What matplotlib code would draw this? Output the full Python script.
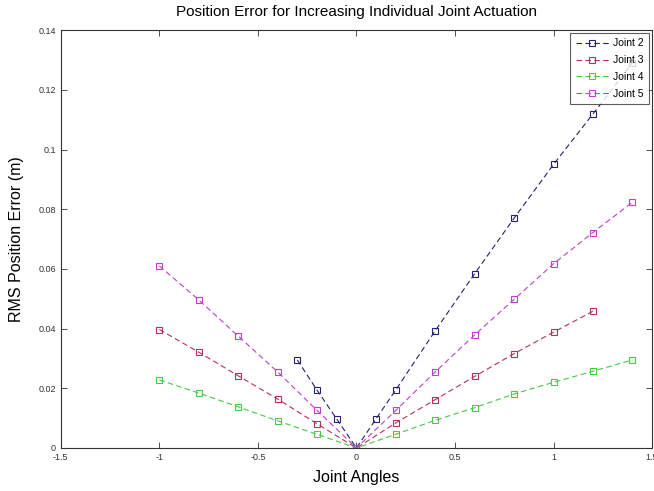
import matplotlib
matplotlib.use('Agg')
import matplotlib.pyplot as plt

plt.rcParams['font.family'] = ['Liberation Sans', 'DejaVu Sans']

# joint angles and RMS position error (m)
j2_x = [-0.3, -0.2, -0.1, 0.0, 0.1, 0.2, 0.4, 0.6, 0.8, 1.0, 1.2, 1.4]
j2_y = [0.0295, 0.0194, 0.0097, 0.0, 0.0098, 0.0195, 0.0393, 0.0584, 0.0770, 0.0950, 0.1119, 0.129]

j3_x = [-1.0, -0.8, -0.6, -0.4, -0.2, 0.0, 0.2, 0.4, 0.6, 0.8, 1.0, 1.2]
j3_y = [0.0397, 0.0321, 0.0242, 0.0164, 0.0081, 0.0, 0.0084, 0.0162, 0.0240, 0.0316, 0.0388, 0.0458]

j4_x = [-1.0, -0.8, -0.6, -0.4, -0.2, 0.0, 0.2, 0.4, 0.6, 0.8, 1.0, 1.2, 1.4]
j4_y = [0.0228, 0.0184, 0.0138, 0.0091, 0.0046, 0.0, 0.0046, 0.0093, 0.0135, 0.0181, 0.0220, 0.0257, 0.0295]

j5_x = [-1.0, -0.8, -0.6, -0.4, -0.2, 0.0, 0.2, 0.4, 0.6, 0.8, 1.0, 1.2, 1.4]
j5_y = [0.0610, 0.0496, 0.0375, 0.0255, 0.0126, 0.0, 0.0126, 0.0255, 0.0379, 0.0498, 0.0617, 0.0722, 0.0823]

xticks = [-1.5, -1, -0.5, 0, 0.5, 1, 1.5]
yticks = [0, 0.02, 0.04, 0.06, 0.08, 0.1, 0.12, 0.14]

fig = plt.figure(figsize=(6.54, 4.91), dpi=100)
ax = fig.add_axes([0.093, 0.0876, 0.904, 0.851])

series = [(j2_x, j2_y, '#22226e', 'Joint 2'),
          (j3_x, j3_y, '#b8305a', 'Joint 3'),
          (j4_x, j4_y, '#44cc44', 'Joint 4'),
          (j5_x, j5_y, '#c040c8', 'Joint 5')]
for xs, ys, c, lab in series:
    ax.plot(xs, ys, '--s', color=c, lw=0.8, dashes=(5, 3), ms=5,
            mfc='none', mec=c, mew=0.8, label=lab)

ax.set_xlim(-1.5, 1.5)
ax.set_ylim(0, 0.14)
ax.set_xticks(xticks)
ax.set_xticklabels(['-1.5', '-1', '-0.5', '0', '0.5', '1', '1.5'])
ax.set_yticks(yticks)
ax.set_yticklabels(['0', '0.02', '0.04', '0.06', '0.08', '0.1', '0.12', '0.14'])
ax.tick_params(direction='in', length=4, labelsize=6.5, top=True, right=True,
               width=0.6, colors='#333333')
for s in ax.spines.values():
    s.set_linewidth(0.8)
    s.set_color('#333333')

ax.set_xlabel('Joint Angles', fontsize=11.5, labelpad=6)
ax.set_ylabel('RMS Position Error (m)', fontsize=11.5, labelpad=10)
ax.set_title('Position Error for Increasing Individual Joint Actuation', fontsize=11, pad=10)

leg = ax.legend(loc='upper right', fontsize=7.5, handlelength=3.2, frameon=True,
                fancybox=False, edgecolor='#333333', borderpad=0.5,
                labelspacing=0.65, handletextpad=0.4, borderaxespad=0.3)
leg.get_frame().set_linewidth(0.8)

fig.savefig('out.png', dpi=100)
